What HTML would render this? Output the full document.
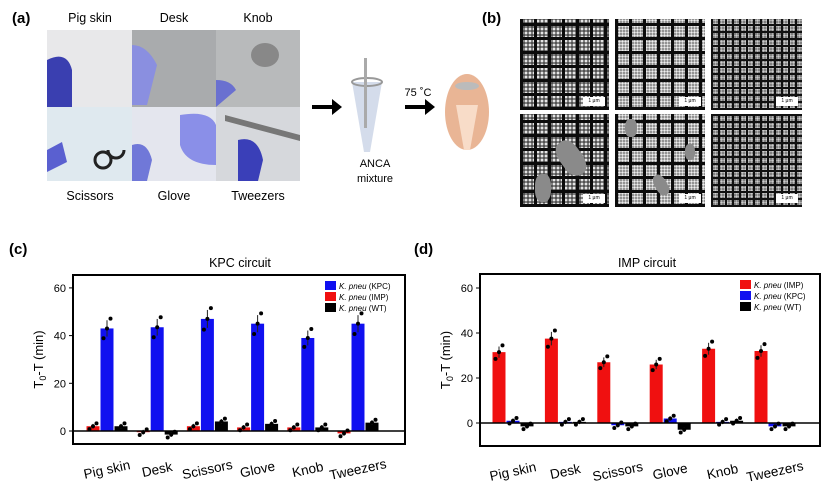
<!DOCTYPE html><html><head><style>
body{margin:0;width:824px;height:490px;background:#fff;overflow:hidden;font-family:"Liberation Sans",sans-serif}
.sem{position:absolute;background-color:#3a3a3a;background-image:repeating-linear-gradient(0deg,#0c0c0c 0 3px,transparent 3px 14px),repeating-linear-gradient(90deg,#0c0c0c 0 3px,transparent 3px 14px),radial-gradient(#eee 0.8px,#777 1.6px,#3a3a3a 2.5px);background-size:auto,auto,4px 4px}
.f{background-image:repeating-linear-gradient(0deg,#111 0 2px,transparent 2px 7px),repeating-linear-gradient(90deg,#111 0 2px,transparent 2px 7px),radial-gradient(#ccc 0.8px,#666 1.6px);background-size:auto,auto,3px 3px;background-color:#666}
.sb{position:absolute;right:4px;bottom:4px;width:22px;height:9px;background:#fff;font-size:5px;text-align:center;line-height:9px}
.blob{position:absolute;background:#8a8a8a;border-radius:40%}
</style></head><body>
<svg id="s" width="824" height="490" style="position:absolute;left:0;top:0" font-family="Liberation Sans, sans-serif">
<text x="12" y="23" font-size="15" font-weight="bold">(a)</text>
<text x="482" y="23" font-size="15" font-weight="bold">(b)</text>
<text x="9" y="254" font-size="15" font-weight="bold">(c)</text>
<text x="414" y="254" font-size="15" font-weight="bold">(d)</text>
<g font-size="12.5" text-anchor="middle">
<text x="90" y="22">Pig skin</text><text x="174" y="22">Desk</text><text x="258" y="22">Knob</text>
<text x="90" y="200">Scissors</text><text x="174" y="200">Glove</text><text x="258" y="200">Tweezers</text>
<text x="375" y="167" font-size="11">ANCA</text><text x="375" y="182" font-size="11">mixture</text>
<text x="418" y="96" font-size="11">75 ˚C</text>
</g>
<rect x="47" y="30" width="85" height="77" fill="#e8e8ea"/><rect x="132" y="30" width="84" height="77" fill="#a9abad"/><rect x="216" y="30" width="84" height="77" fill="#b8babb"/>
<rect x="47" y="107" width="85" height="74" fill="#dfe9ef"/><rect x="132" y="107" width="84" height="74" fill="#e4e6ee"/><rect x="216" y="107" width="84" height="74" fill="#d6d8dc"/>
<path d="M47 60 q20 -10 25 10 l0 37 l-25 0z" fill="#3a3fb0"/><path d="M132 45 q15 0 25 20 l-10 40 l-15 0z" fill="#8a8fe0"/><path d="M216 80 q15 0 20 10 l-20 17z" fill="#6a70d0"/>
<path d="M47 150 l15 -8 l5 20 l-20 10z" fill="#5a60d0"/><path d="M180 115 q30 -5 36 10 l0 40 q-30 0 -36 -20z" fill="#8a8fe8"/><path d="M132 145 q15 -5 20 15 l-5 21 l-15 0z" fill="#7078d8"/><path d="M238 140 q20 -5 25 20 l-5 21 l-20 0z" fill="#3a3fb8"/>
<ellipse cx="265" cy="55" rx="14" ry="12" fill="#888"/><path d="M95 160 a8 8 0 1 0 16 0 a8 8 0 1 0 -16 0 M108 150 a8 8 0 1 0 16 0" stroke="#222" stroke-width="3" fill="none"/>
<path d="M225 115 l75 20 l0 6 l-75 -20z" fill="#777"/>
<path d="M312 105 h20 v-6 l10 8 l-10 8 v-6 h-20z" fill="#000"/><path d="M405 105 h20 v-6 l10 8 l-10 8 v-6 h-20z" fill="#000"/>
<path d="M352 82 h30 l-12 70 h-6z" fill="#c9d3e6" opacity=".8"/><ellipse cx="367" cy="82" rx="15" ry="4" fill="none" stroke="#999" stroke-width="2"/><rect x="364" y="58" width="3" height="70" fill="#aaa"/>
<ellipse cx="467" cy="112" rx="22" ry="38" fill="#e4a37a" opacity=".8"/><path d="M456 105 h22 l-8 45 h-6z" fill="#f8dcc8"/><ellipse cx="467" cy="86" rx="12" ry="4" fill="#bbb"/>
<g font-size="12.5" text-anchor="middle"><text x="240" y="267">KPC circuit</text><text x="647" y="267">IMP circuit</text></g>
<g id="c"></g><g id="d"></g>
</svg>
<div class="sem" style="left:520px;top:19px;width:89px;height:91px"><div class="sb">1 μm</div></div>
<div class="sem" style="left:615px;top:19px;width:90px;height:91px;background-size:auto,auto,3px 3px"><div class="sb">1 μm</div></div>
<div class="sem f" style="left:711px;top:19px;width:91px;height:91px"><div class="sb">1 μm</div></div>
<div class="sem" style="left:520px;top:114px;width:89px;height:93px"><div class="blob" style="left:40px;top:25px;width:22px;height:38px;transform:rotate(-35deg)"></div><div class="blob" style="left:15px;top:60px;width:16px;height:28px"></div><div class="sb">1 μm</div></div>
<div class="sem" style="left:615px;top:114px;width:90px;height:93px;background-size:auto,auto,3px 3px"><div class="blob" style="left:10px;top:5px;width:12px;height:18px"></div><div class="blob" style="left:40px;top:60px;width:12px;height:22px;transform:rotate(-30deg)"></div><div class="blob" style="left:70px;top:30px;width:10px;height:16px"></div><div class="sb">1 μm</div></div>
<div class="sem f" style="left:711px;top:114px;width:91px;height:93px"><div class="sb">1 μm</div></div>
<script>
const NS="http://www.w3.org/2000/svg";
function el(p,t,a,txt){const e=document.createElementNS(NS,t);for(const k in a)e.setAttribute(k,a[k]);if(txt)e.textContent=txt;p.appendChild(e);return e;}
function chart(g,o){
 const y=v=>o.y0-v*o.k;
 el(g,"rect",{x:o.L,y:o.T,width:o.R-o.L,height:o.B-o.T,fill:"none",stroke:"#000","stroke-width":2});
 [0,20,40,60].forEach(v=>{el(g,"line",{x1:o.L-4,x2:o.L,y1:y(v),y2:y(v),stroke:"#000"});el(g,"text",{x:o.L-7,y:y(v)+4,"font-size":11,"text-anchor":"end"},""+v);});
 const cats=["Pig skin","Desk","Scissors","Glove","Knob","Tweezers"];
 o.data.forEach((d,i)=>{const c=o.c0+o.dx*i;
  d.forEach((v,j)=>{const x=c+(j-1)*14-6.5;
   el(g,"rect",{x:x,y:Math.min(y(v),o.y0),width:13,height:Math.abs(y(v)-o.y0),fill:o.cols[j]});
   const e=Math.max(1,Math.abs(v)*0.08);
   el(g,"line",{x1:x+6.5,x2:x+6.5,y1:y(v+e),y2:y(v-e),stroke:"#222"});
   [-1,0,1].forEach(s=>el(g,"circle",{cx:x+6.5+s*3.5,cy:y(v+s*e*1.2),r:2,fill:"#000"}));
  });
  el(g,"text",{x:c,y:o.B+30,"font-size":13.5,"text-anchor":"middle",transform:`rotate(-12 ${c} ${o.B+26})`},cats[i]);
 });
 el(g,"line",{x1:o.L,x2:o.R,y1:o.y0,y2:o.y0,stroke:"#000","stroke-width":1.5});
 const t=el(g,"text",{x:0,y:0,"font-size":13,"text-anchor":"middle",transform:`translate(${o.L-30},${(o.T+o.B)/2}) rotate(-90)`});
 t.innerHTML='T<tspan font-size="9" dy="3">0</tspan><tspan dy="-3">-T (min)</tspan>';
 o.leg.forEach((l,j)=>{const ly=o.T+6+j*11;el(g,"rect",{x:o.R-80,y:ly,width:11,height:9,fill:l[0]});
  const tt=el(g,"text",{x:o.R-66,y:ly+8,"font-size":8});tt.innerHTML='<tspan font-style="italic">K. pneu</tspan> ('+l[1]+')';});
}
const R="#f01010",Bl="#1010f0",K="#000";
chart(document.getElementById("c"),{L:73,R:405,T:275,B:444,y0:431,k:2.385,c0:107,dx:50.2,cols:[R,Bl,K],
 data:[[2,43,2],[-0.5,43.5,-1.5],[2,47,4],[1.5,45,3],[1.5,39,1.5],[-1,45,3.5]],leg:[[Bl,"KPC"],[R,"IMP"],[K,"WT"]]});
chart(document.getElementById("d"),{L:480,R:820,T:274,B:446,y0:423,k:2.25,c0:513,dx:52.4,cols:[R,Bl,K],
 data:[[31.5,1,-1.5],[37.5,0.5,0.5],[27,-1,-1.5],[26,2,-3],[33,0.5,1],[32,-1.5,-1.5]],leg:[[R,"IMP"],[Bl,"KPC"],[K,"WT"]]});
</script>
</body></html>
